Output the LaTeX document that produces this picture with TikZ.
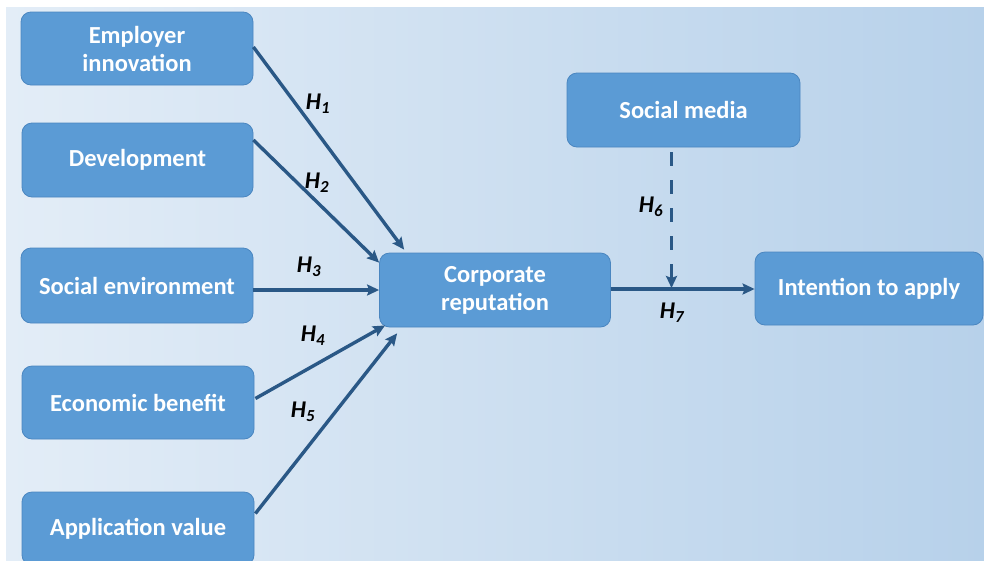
\documentclass[tikz,border=0pt]{standalone}
\usepackage{fontspec}
\setmainfont{Carlito}
\usetikzlibrary{arrows.meta,calc}

\definecolor{boxfill}{HTML}{5B9BD5}
\definecolor{boxline}{HTML}{4A86C0}
\definecolor{arrowcol}{HTML}{2A5886}
\definecolor{bgleft}{HTML}{E3EDF7}
\definecolor{bgright}{HTML}{B7D1EA}

\tikzset{
  factor/.style={draw=boxline, line width=0.8pt, fill=boxfill, rounded corners=10pt,
    text=white, font=\fontsize{24.5}{28}\selectfont\bfseries, align=center, inner sep=0pt},
  link/.style={draw=arrowcol, line width=3.4pt,
    -{Stealth[length=12pt,width=11pt,inset=2pt]}},
  modlink/.style={link, dash pattern=on 14pt off 14pt},
  hyp/.style={font=\fontsize{24}{26}\selectfont\bfseries\itshape, text=black, inner sep=0pt}
}

\begin{document}
\begin{tikzpicture}[x=1pt,y=-1pt]
  % page frame and background
  \useasboundingbox (0,0) rectangle (984,560);
  \clip (0,0) rectangle (984,560);
  \fill[white] (0,0) rectangle (984,560);
  \shade[left color=bgleft, right color=bgright] (6,7) rectangle (985,561);

  % antecedents
  \node[factor, minimum width=232pt, minimum height=73pt] (emp) at (137,48.5) {Employer\\innovation};
  \node[factor, minimum width=231pt, minimum height=74pt] (dev) at (137.5,160) {Development};
  \node[factor, minimum width=232pt, minimum height=75pt] (soc) at (137,285.5) {Social environment};
  \node[factor, minimum width=232pt, minimum height=73pt] (eco) at (138,402.5) {Economic benefit};
  \node[factor, minimum width=232pt, minimum height=73pt] (app) at (138,528.5) {Application value};

  % mediator, moderator and outcome
  \node[factor, minimum width=231pt, minimum height=74pt] (corp) at (495,290) {Corporate\\reputation};
  \node[factor, minimum width=233pt, minimum height=74pt] (smed) at (683.5,110) {Social media};
  \node[factor, minimum width=228pt, minimum height=73pt] (intent) at (869,288.5) {Intention to apply};

  % hypotheses H1--H5
  \draw[link] ($(emp.east)+(0,-1.5)$) -- ($(corp.north west)+(25,-3)$);
  \draw[link] ($(dev.east)+(0,-20)$) -- ($(corp.north west)+(0,10)$);
  \draw[link] (soc.east |- corp.west) -- (corp.west);
  \draw[link] ($(eco.east)+(1,-4)$) -- ($(corp.south west)+(6,-2)$);
  \draw[link] ($(app.east)+(1,-15)$) -- ($(corp.south west)+(18,6)$);

  % H7 and the moderating effect H6
  \coordinate (outstart) at ($(corp.east)+(0,-1)$);
  \coordinate (outend) at (outstart -| intent.west);
  \draw[link] (outstart) -- (outend);
  \coordinate (modtop) at ($(smed.south)+(-12,5)$);
  \coordinate (join) at ($(modtop |- outstart)+(0,-1)$);
  \draw[modlink] (modtop) -- (join);

  % hypothesis labels
  \node[hyp] (h1) at (318,104) {H\textsubscript{1}};
  \node[hyp] (h2) at (317,183) {H\textsubscript{2}};
  \node[hyp] (h3) at (309,267) {H\textsubscript{3}};
  \node[hyp] (h4) at (313,336) {H\textsubscript{4}};
  \node[hyp] (h5) at (303,412) {H\textsubscript{5}};
  \node[hyp] (h6) at (651,207) {H\textsubscript{6}};
  \node[hyp] (h7) at (672,313) {H\textsubscript{7}};
\end{tikzpicture}
\end{document}
